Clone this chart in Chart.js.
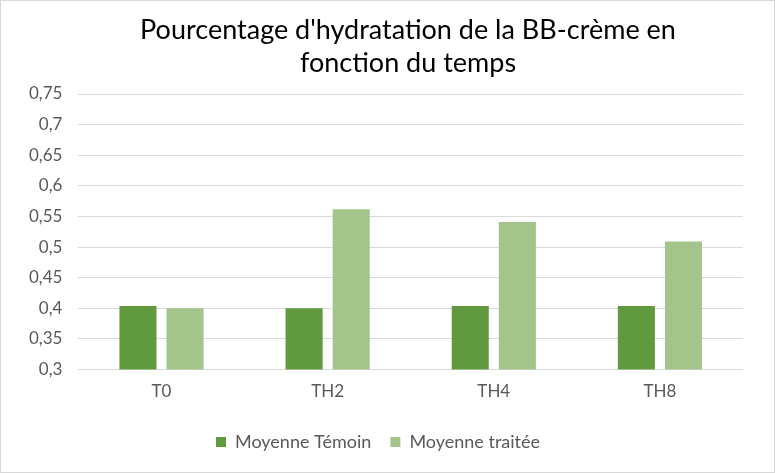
<!DOCTYPE html>
<html>
<head>
<meta charset="utf-8">
<script src="https://cdn.jsdelivr.net/npm/chart.js@4"></script>
<style>
  body { margin: 0; background: #fff; }
  .wrap { width: 775px; height: 473px; box-sizing: border-box; border: 1px solid #d9d9d9; }
</style>
</head>
<body>
<div class="wrap"><canvas id="chart" width="773" height="471"></canvas></div>
<script>
const categories = ['T0', 'TH2', 'TH4', 'TH8'];
const temoin = [0.404, 0.400, 0.404, 0.404];
const traitee = [0.400, 0.562, 0.541, 0.509];
const titleLines = ["Pourcentage d'hydratation de la BB-crème en", 'fonction du temps'];

const fmt = v => String(Math.round(v * 100) / 100).replace('.', ',');

// titre dessiné à la main, un peu décalé à droite comme dans Excel
const titlePlugin = {
    id: 'excelTitle',
    afterDraw(chart) {
        const c = chart.ctx;
        c.save();
        c.font = '27px Lato';
        c.fillStyle = '#000';
        c.textAlign = 'center';
        c.textBaseline = 'middle';
        titleLines.forEach((line, i) => c.fillText(line, 407, 29 + i * 33));
        c.restore();
    }
};

const ctx = document.getElementById('chart').getContext('2d');
new Chart(ctx, {
    type: 'bar',
    data: {
        labels: categories,
        datasets: [
            { label: 'Moyenne Témoin', data: temoin, backgroundColor: '#619a3e' },
            { label: 'Moyenne traitée', data: traitee, backgroundColor: '#a3c58c' }
        ]
    },
    options: {
        responsive: false,
        animation: false,
        layout: { padding: { left: 12, right: 31, top: 93, bottom: 11 } },
        datasets: { bar: { categoryPercentage: 0.567, barPercentage: 0.787 } },
        plugins: {
            legend: {
                position: 'bottom',
                labels: {
                    color: '#595959',
                    font: { family: 'Lato', size: 18 },
                    boxWidth: 10,
                    boxHeight: 10,
                    padding: 19
                }
            },
            tooltip: { enabled: false }
        },
        scales: {
            x: {
                grid: { display: false, drawTicks: false },
                border: { display: false },
                ticks: { color: '#595959', font: { family: 'Lato', size: 17 }, padding: 12 }
            },
            y: {
                min: 0.3,
                max: 0.75,
                border: { display: false },
                grid: { color: '#d9d9d9', drawTicks: false },
                ticks: {
                    stepSize: 0.05,
                    color: '#595959',
                    font: { family: 'Lato', size: 17 },
                    padding: 16,
                    callback: v => fmt(v)
                }
            }
        }
    },
    plugins: [titlePlugin]
});
</script>
</body>
</html>
